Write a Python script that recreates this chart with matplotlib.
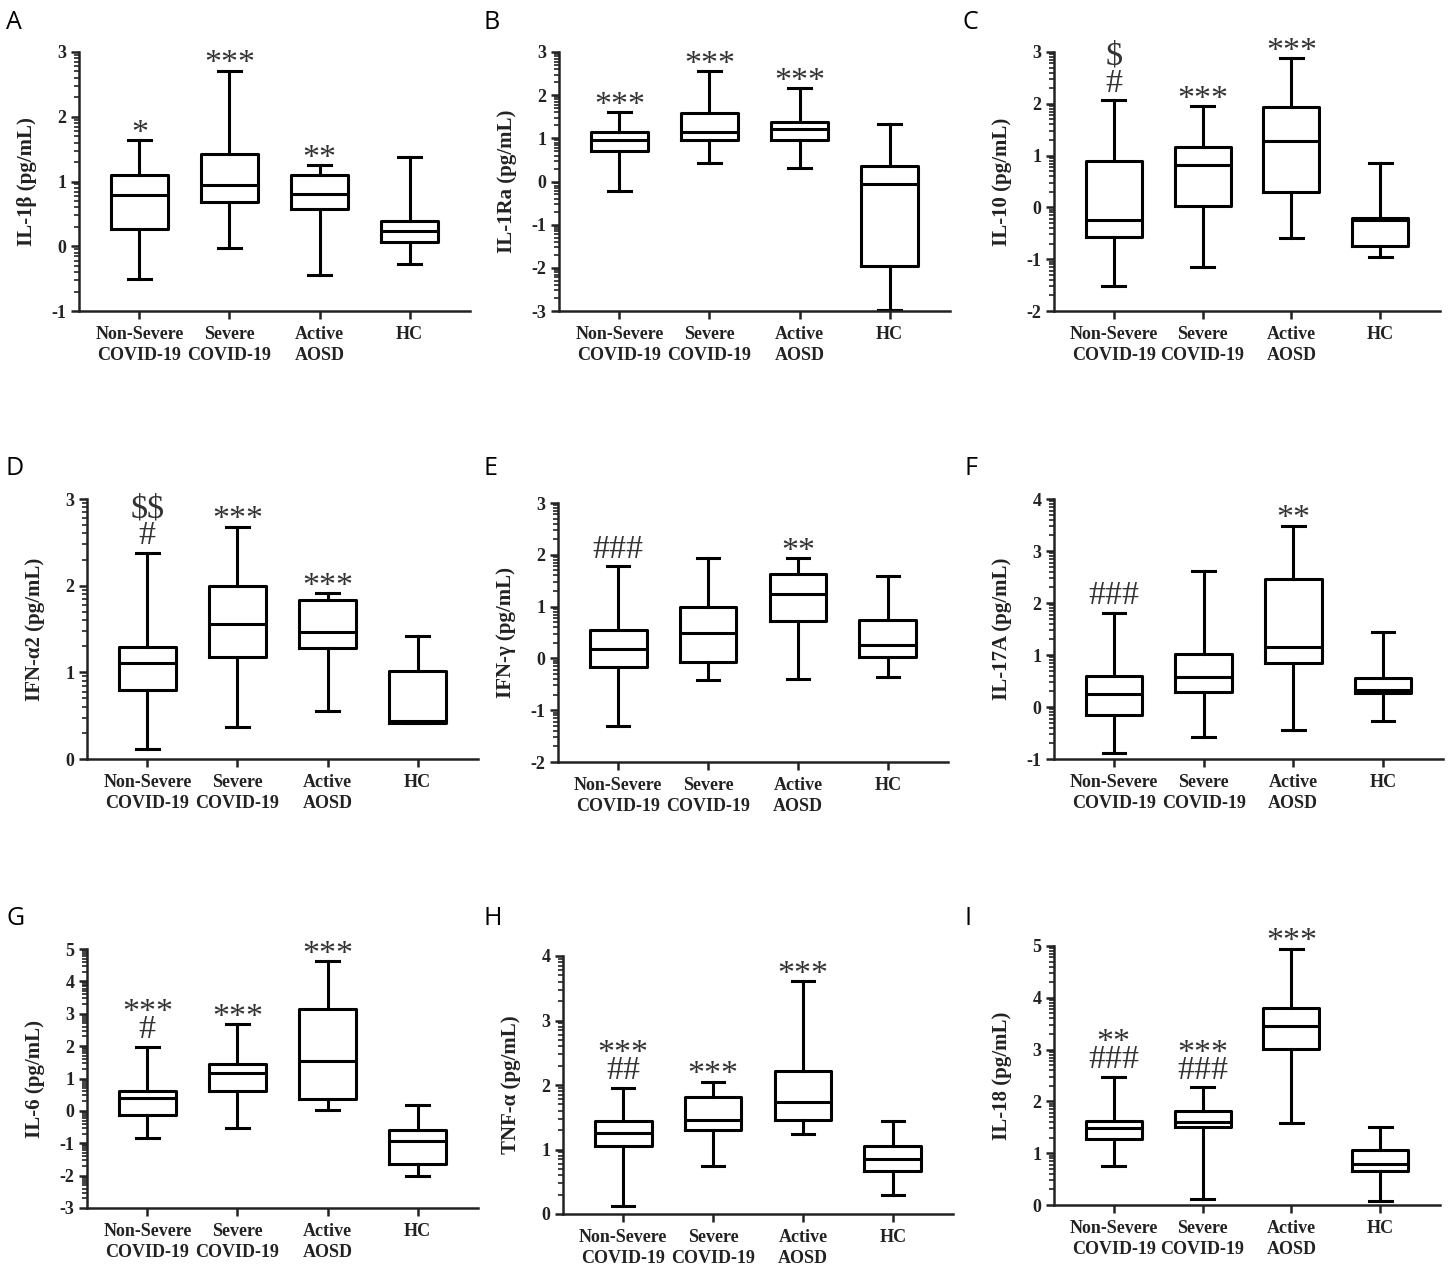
import numpy as np
import matplotlib.pyplot as plt
from matplotlib.ticker import FixedLocator

# --- box statistics: [whisker low, Q1, median, Q3, whisker high] ---
groups = ["Non-Severe\nCOVID-19", "Severe\nCOVID-19", "Active\nAOSD", "HC"]

il1b = [[-0.50, 0.27, 0.79, 1.10, 1.64],
        [-0.02, 0.69, 0.95, 1.42, 2.71],
        [-0.44, 0.57, 0.81, 1.10, 1.25],
        [-0.28, 0.06, 0.23, 0.39, 1.38]]
il1ra = [[-0.22, 0.71, 0.97, 1.14, 1.61],
         [0.42, 0.95, 1.14, 1.58, 2.56],
         [0.32, 0.95, 1.21, 1.38, 2.16],
         [-2.98, -1.95, -0.06, 0.37, 1.34]]
il10 = [[-1.51, -0.57, -0.25, 0.90, 2.07],
        [-1.15, 0.02, 0.82, 1.17, 1.95],
        [-0.60, 0.29, 1.29, 1.93, 2.88],
        [-0.95, -0.74, -0.24, -0.21, 0.85]]
ifna2 = [[0.12, 0.80, 1.11, 1.29, 2.38],
         [0.37, 1.18, 1.56, 2.00, 2.68],
         [0.55, 1.28, 1.47, 1.83, 1.91],
         [0.42, 0.42, 0.44, 1.02, 1.42]]
ifng = [[-1.31, -0.17, 0.19, 0.55, 1.78],
        [-0.42, -0.07, 0.50, 0.99, 1.93],
        [-0.40, 0.72, 1.24, 1.62, 1.94],
        [-0.35, 0.02, 0.26, 0.75, 1.60]]
il17a = [[-0.88, -0.15, 0.25, 0.59, 1.81],
         [-0.58, 0.29, 0.57, 1.02, 2.62],
         [-0.45, 0.84, 1.15, 2.46, 3.49],
         [-0.27, 0.26, 0.32, 0.55, 1.45]]
il6 = [[-0.85, -0.14, 0.41, 0.62, 1.98],
       [-0.53, 0.62, 1.16, 1.44, 2.68],
       [0.03, 0.38, 1.55, 3.15, 4.62],
       [-2.00, -1.64, -0.94, -0.59, 0.17]]
tnfa = [[0.12, 1.06, 1.26, 1.44, 1.96],
        [0.74, 1.30, 1.46, 1.82, 2.05],
        [1.24, 1.46, 1.73, 2.22, 3.61],
        [0.30, 0.67, 0.85, 1.05, 1.44]]
il18 = [[0.76, 1.28, 1.48, 1.63, 2.48],
        [0.12, 1.51, 1.61, 1.81, 2.27],
        [1.58, 3.02, 3.45, 3.80, 4.95],
        [0.08, 0.66, 0.79, 1.06, 1.51]]

# significance marks, listed bottom to top for each group
il1b_marks = [["*"], ["***"], ["**"], []]
il1ra_marks = [["***"], ["***"], ["***"], []]
il10_marks = [["#", "$"], ["***"], ["***"], []]
ifna2_marks = [["#", "$$"], ["***"], ["***"], []]
ifng_marks = [["###"], [], ["**"], []]
il17a_marks = [["###"], [], ["**"], []]
il6_marks = [["#", "***"], ["***"], ["***"], []]
tnfa_marks = [["##", "***"], ["***"], ["***"], []]
il18_marks = [["###", "**"], ["###", "***"], ["***"], []]

# panel letter, y label, data, marks, y range, axes box in pixels (left, top, right, bottom)
panels = [
    ("A", "IL-1β (pg/mL)", il1b, il1b_marks, (-1, 3), (79, 52, 470, 311)),
    ("B", "IL-1Ra (pg/mL)", il1ra, il1ra_marks, (-3, 3), (559, 52, 950, 311)),
    ("C", "IL-10 (pg/mL)", il10, il10_marks, (-2, 3), (1054, 52, 1440, 311)),
    ("D", "IFN-α2 (pg/mL)", ifna2, ifna2_marks, (0, 3), (87, 499, 478, 759)),
    ("E", "IFN-γ (pg/mL)", ifng, ifng_marks, (-2, 3), (558, 503, 948, 762)),
    ("F", "IL-17A (pg/mL)", il17a, il17a_marks, (-1, 4), (1054, 499, 1443, 759)),
    ("G", "IL-6 (pg/mL)", il6, il6_marks, (-3, 5), (87, 949, 478, 1208)),
    ("H", "TNF-α (pg/mL)", tnfa, tnfa_marks, (0, 4), (563, 956, 953, 1214)),
    ("I", "IL-18 (pg/mL)", il18, il18_marks, (0, 5), (1054, 946, 1440, 1205)),
]

letter_pos = {"A": (6, 10), "B": (484, 10), "C": (963, 10),
              "D": (6, 456), "E": (484, 456), "F": (965, 456),
              "G": (6, 906), "H": (484, 906), "I": (965, 906)}

W, H = 1448, 1268
fig = plt.figure(figsize=(W / 100, H / 100), dpi=100)

serif = "Liberation Serif"
mark_col = "#333333"
PX = 100 / 72  # pixels per point
MARK_FS = 24.5
EM = MARK_FS * PX
DESC = 0.217  # descent of "lp" in Liberation Serif, em
glyph_bottom = {"*": 0.30, "#": 0.0, "$": -0.06}
line_gap = {"*": 0.43, "$": 0.85, "#": 0.6}  # linespacing when this glyph sits on top

for letter, ylab, data, marks, (ymin, ymax), (l, t, r, b) in panels:
    ax = fig.add_axes([l / W, 1 - b / H, (r - l) / W, (b - t) / H])
    stats = [dict(whislo=s[0], q1=s[1], med=s[2], q3=s[3], whishi=s[4], fliers=[])
             for s in data]
    lw = 2.2
    ax.bxp(stats, positions=range(4), widths=0.63, capwidths=0.25, showfliers=False,
           boxprops=dict(color="black", linewidth=lw),
           whiskerprops=dict(color="black", linewidth=lw),
           capprops=dict(color="black", linewidth=lw),
           medianprops=dict(color="black", linewidth=lw))

    ax.set_xlim(-0.67, 3.67)
    ax.set_ylim(ymin, ymax)
    ax.set_xticks(range(4))
    ax.set_xticklabels(groups, fontfamily=serif, fontweight="bold", fontsize=13,
                       color="#222222", linespacing=1.25)
    ax.set_yticks(range(ymin, ymax + 1))
    ax.set_yticklabels([str(v) for v in range(ymin, ymax + 1)], fontfamily=serif,
                       fontweight="bold", fontsize=13, color="#222222")
    minors = [d + np.log10(k) for d in range(ymin, ymax) for k in range(2, 10)]
    ax.yaxis.set_minor_locator(FixedLocator(minors))

    for side in ("top", "right"):
        ax.spines[side].set_visible(False)
    for side in ("left", "bottom"):
        ax.spines[side].set_linewidth(1.8)
        ax.spines[side].set_color("#222222")
    ax.tick_params(axis="both", which="major", length=6, width=1.8, color="#222222")
    ax.tick_params(axis="x", which="major", pad=5)
    ax.tick_params(axis="y", which="major", pad=3)
    ax.tick_params(axis="y", which="minor", length=3.5, width=1.2, color="#222222")

    ax.set_ylabel(ylab, fontfamily=serif, fontweight="bold", fontsize=15, color="#222222")
    ax.yaxis.set_label_coords(-42 / (r - l), 0.5)

    # significance symbols stacked above the upper whisker (one text per group)
    for i, lines in enumerate(marks):
        if not lines:
            continue
        lo = glyph_bottom[lines[0][0]]
        ls = line_gap[lines[-1][0]] if len(lines) > 1 else 1.0
        bottom_px = 9 - lo * EM - DESC * EM
        ax.annotate("\n".join(reversed(lines)), xy=(i, data[i][4]),
                    xytext=(0, bottom_px / PX), textcoords="offset points",
                    ha="center", va="bottom", fontfamily=serif, fontsize=MARK_FS,
                    color=mark_col, linespacing=ls, annotation_clip=False,
                    parse_math=False)

    lx, ly = letter_pos[letter]
    fig.text(lx / W, 1 - ly / H, letter, fontfamily="Open Sans", fontsize=18,
             ha="left", va="top")

fig.savefig("out.png", dpi=100)
